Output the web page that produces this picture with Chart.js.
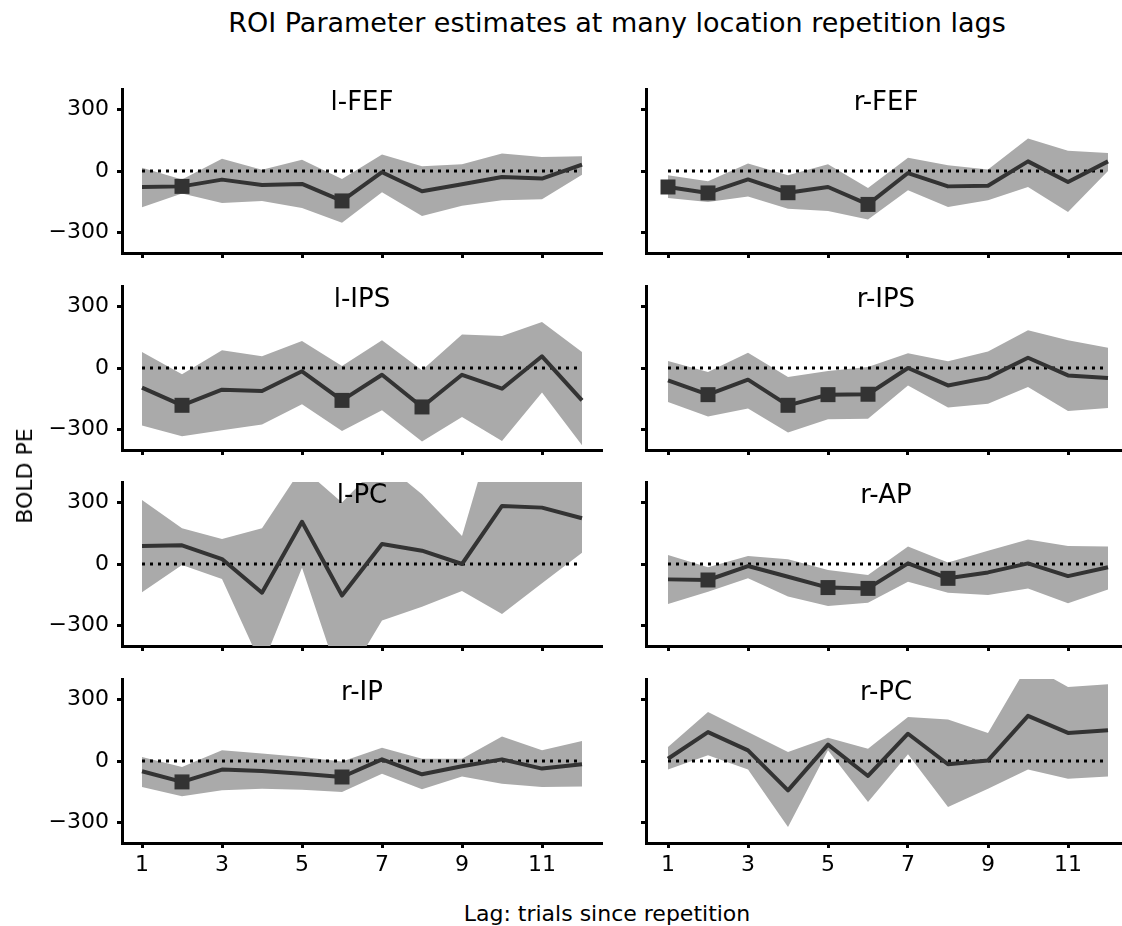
<!DOCTYPE html>
<html>
<head>
<meta charset="utf-8">
<title>ROI Parameter estimates at many location repetition lags</title>
<script src="https://cdn.jsdelivr.net/npm/chart.js@4.4.1/dist/chart.umd.min.js"></script>
<style>
  html, body { margin: 0; padding: 0; background: #fff; }
  #fig { position: relative; width: 1122px; height: 926px; overflow: hidden; font-family: "DejaVu Sans", sans-serif; color: #000; }
  #fig canvas { position: absolute; }
  .txt { position: absolute; font-size: 22px; line-height: 22px; white-space: nowrap; z-index: 5; }
  .center { transform: translateX(-50%); }
  .big { font-size: 27px; line-height: 27px; }
  .panel { font-size: 26px; line-height: 26px; }
</style>
</head>
<body>
<div id="fig">
  <div class="txt big center" style="left:617px; top:9px;">ROI Parameter estimates at many location repetition lags</div>
  <div class="txt" style="left:25px; top:476px; transform: translate(-50%, -50%) rotate(-90deg);">BOLD PE</div>
  <div class="txt center" style="left:607px; top:903px;">Lag: trials since repetition</div>
</div>
<script>
// lags on the x axis
var lags = [1, 2, 3, 4, 5, 6, 7, 8, 9, 10, 11, 12];
var xTickValues = [1, 3, 5, 7, 9, 11];
var yTickValues = [-300, 0, 300];

// l-FEF
var lFefMean  = [-78, -75, -42, -68, -63, -146, -6, -99, -65, -29, -37, 31];
var lFefUpper = [16, -42, 60, 6, 55, -39, 81, 23, 33, 85, 68, 72];
var lFefLower = [-177, -110, -156, -146, -180, -252, -104, -219, -169, -143, -138, -18];
var lFefSig   = [2, 6];

// r-FEF
var rFefMean  = [-78, -107, -41, -106, -78, -163, -10, -75, -72, 47, -54, 47];
var rFefUpper = [-21, -50, 36, -21, 33, -83, 65, 28, 7, 158, 99, 88];
var rFefLower = [-132, -151, -124, -184, -195, -237, -94, -176, -143, -78, -200, 0];
var rFefSig   = [1, 2, 4, 6];

// l-IPS
var lIpsMean  = [-96, -182, -106, -112, -16, -158, -33, -190, -33, -101, 57, -158];
var lIpsUpper = [78, -31, 86, 57, 132, 10, 135, -11, 164, 156, 224, 78];
var lIpsLower = [-280, -333, -304, -276, -177, -307, -206, -358, -239, -356, -120, -377];
var lIpsSig   = [2, 6, 8];

// r-IPS
var rIpsMean  = [-60, -130, -57, -182, -130, -128, 0, -85, -47, 50, -36, -49];
var rIpsUpper = [34, -20, 75, -44, -15, 5, 72, 33, 81, 184, 135, 99];
var rIpsLower = [-166, -236, -198, -315, -250, -247, -85, -193, -174, -93, -210, -195];
var rIpsSig   = [2, 4, 5, 6];

// l-PC
var lPcMean  = [88, 91, 24, -140, 206, -154, 98, 65, 0, 283, 275, 223];
var lPcUpper = [312, 174, 122, 174, 470, 300, 500, 340, 137, 800, 650, 520];
var lPcLower = [-138, -5, -73, -500, -18, -600, -276, -208, -132, -244, -94, 55];
var lPcSig   = [];

// r-AP
var rApMean  = [-75, -78, -10, -62, -115, -119, 3, -70, -41, 3, -59, -16];
var rApUpper = [44, -16, 39, 23, -29, -54, 85, 7, 65, 120, 88, 85];
var rApLower = [-195, -135, -70, -159, -205, -189, -86, -140, -151, -119, -192, -124];
var rApSig   = [2, 5, 6, 8];

// r-IP
var rIpMean  = [-50, -102, -42, -49, -62, -78, 8, -65, -26, 8, -37, -16];
var rIpUpper = [20, -29, 52, 36, 20, -2, 65, 11, 11, 120, 52, 98];
var rIpLower = [-127, -172, -143, -135, -140, -151, -62, -138, -75, -111, -127, -124];
var rIpSig   = [2, 6];

// r-PC
var rPcMean  = [11, 141, 52, -143, 80, -73, 133, -16, 3, 220, 137, 150];
var rPcUpper = [68, 239, 141, 44, 114, 60, 215, 202, 137, 470, 361, 374];
var rPcLower = [-42, 28, -41, -322, 52, -200, 33, -224, -135, -42, -86, -75];
var rPcSig   = [];

var panels = [
  { title: "l-FEF", mean: lFefMean, upper: lFefUpper, lower: lFefLower, sig: lFefSig },
  { title: "r-FEF", mean: rFefMean, upper: rFefUpper, lower: rFefLower, sig: rFefSig },
  { title: "l-IPS", mean: lIpsMean, upper: lIpsUpper, lower: lIpsLower, sig: lIpsSig },
  { title: "r-IPS", mean: rIpsMean, upper: rIpsUpper, lower: rIpsLower, sig: rIpsSig },
  { title: "l-PC",  mean: lPcMean,  upper: lPcUpper,  lower: lPcLower,  sig: lPcSig },
  { title: "r-AP",  mean: rApMean,  upper: rApUpper,  lower: rApLower,  sig: rApSig },
  { title: "r-IP",  mean: rIpMean,  upper: rIpUpper,  lower: rIpLower,  sig: rIpSig },
  { title: "r-PC",  mean: rPcMean,  upper: rPcUpper,  lower: rPcLower,  sig: rPcSig }
];

var MEAN_COLOR = "#333333";
var BAND_COLOR = "#aaaaaa";
var FONT = { family: "DejaVu Sans", size: 22 };

// layout of the 4x2 grid
var rowZero = [171, 368, 564, 761];
var halfH = 82;
var padTop = 8;

function fmtTick(v) {
  return v < 0 ? "\u2212" + Math.abs(v) : String(v);
}

function points(values) {
  return lags.map(function (x, i) { return { x: x, y: values[i] }; });
}

// scales must not push the plot area in for their label overflow
function noPadding(s) {
  s.paddingTop = 0;
  s.paddingBottom = 0;
  s.paddingLeft = 0;
  s.paddingRight = 0;
}

function makePanel(p, idx) {
  var row = Math.floor(idx / 2);
  var isLeft = idx % 2 === 0;
  var isBottom = row === 3;
  var xAxisH = isBottom ? 45 : 10;
  var yAxisW = isLeft ? 122 : 86;
  var canvasLeft = isLeft ? 0 : 560;
  var canvasW = isLeft ? 612 : 562;
  var canvasTop = rowZero[row] - halfH - padTop;
  var canvasH = padTop + 2 * halfH + xAxisH;

  var fig = document.getElementById("fig");
  var cv = document.createElement("canvas");
  cv.width = canvasW;
  cv.height = canvasH;
  cv.style.left = canvasLeft + "px";
  cv.style.top = canvasTop + "px";
  cv.style.width = canvasW + "px";
  cv.style.height = canvasH + "px";
  fig.appendChild(cv);

  var t = document.createElement("div");
  t.className = "txt panel center";
  t.textContent = p.title;
  t.style.left = (isLeft ? 362 : 886) + "px";
  t.style.top = (rowZero[row] - 83) + "px";
  fig.appendChild(t);

  var axisGrid = { drawOnChartArea: false, drawTicks: true, tickLength: 5, tickWidth: 3, tickColor: "#000", color: "#000" };
  var axisBorder = { display: true, color: "#000", width: 3 };

  new Chart(cv, {
    type: "line",
    data: {
      datasets: [
        {
          data: points(p.mean),
          borderColor: MEAN_COLOR,
          borderWidth: 4,
          borderJoinStyle: "round",
          tension: 0,
          fill: false,
          pointStyle: "rect",
          pointRadius: function (ctx) {
            return p.sig.indexOf(lags[ctx.dataIndex]) >= 0 ? 10.6 : 0;
          },
          pointBackgroundColor: MEAN_COLOR,
          pointBorderWidth: 0
        },
        {
          data: points(lags.map(function () { return 0; })),
          borderColor: "#000",
          borderWidth: 3,
          borderDash: [3, 5],
          pointRadius: 0,
          fill: false
        },
        {
          data: points(p.upper),
          borderColor: "rgba(0,0,0,0)",
          borderWidth: 0,
          pointRadius: 0,
          tension: 0,
          fill: "+1",
          backgroundColor: BAND_COLOR
        },
        {
          data: points(p.lower),
          borderColor: "rgba(0,0,0,0)",
          borderWidth: 0,
          pointRadius: 0,
          tension: 0,
          fill: false
        }
      ]
    },
    options: {
      responsive: false,
      animation: false,
      devicePixelRatio: 1,
      events: [],
      layout: { padding: { top: padTop, left: 0, right: isLeft ? 10 : 0, bottom: 0 }, autoPadding: false },
      plugins: { legend: { display: false }, tooltip: { enabled: false }, title: { display: false } },
      scales: {
        x: {
          type: "linear",
          min: isLeft ? 0.5 : 0.45,
          max: isLeft ? 12.5 : 12.35,
          afterBuildTicks: function (s) { s.ticks = xTickValues.map(function (v) { return { value: v }; }); },
          afterFit: function (s) { s.height = xAxisH; noPadding(s); },
          grid: axisGrid,
          border: axisBorder,
          ticks: { display: isBottom, color: "#000", font: FONT, padding: 4, maxRotation: 0, autoSkip: false }
        },
        y: {
          min: -400,
          max: 400,
          afterBuildTicks: function (s) { s.ticks = yTickValues.map(function (v) { return { value: v }; }); },
          afterFit: function (s) { s.width = yAxisW; noPadding(s); },
          grid: axisGrid,
          border: axisBorder,
          ticks: { display: isLeft, color: "#000", font: FONT, padding: 8, callback: fmtTick }
        }
      }
    }
  });
}

panels.forEach(makePanel);
</script>
</body>
</html>
